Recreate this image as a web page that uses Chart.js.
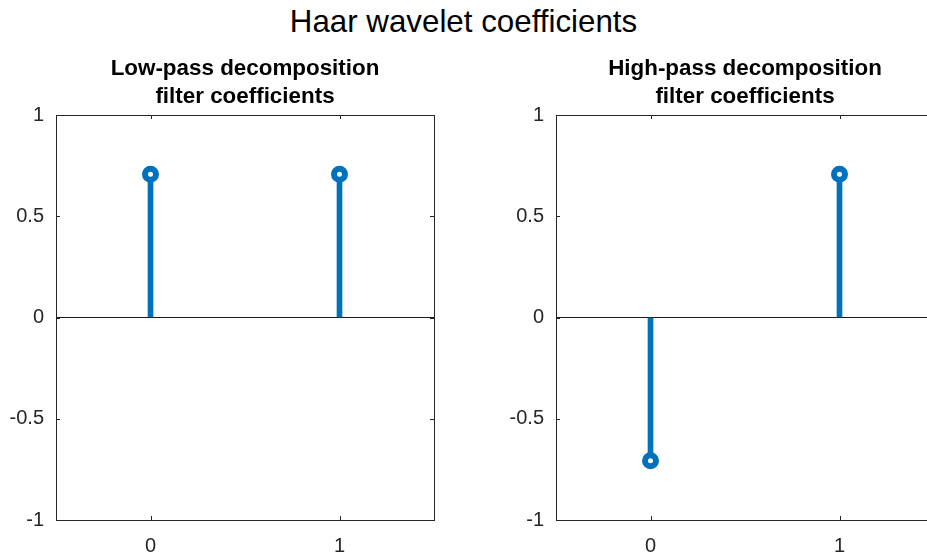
<!DOCTYPE html>
<html>
<head>
<meta charset="utf-8">
<script src="https://cdn.jsdelivr.net/npm/chart.js@4.4.1/dist/chart.umd.min.js"></script>
<style>
  html, body { margin: 0; padding: 0; background: #fff; width: 927px; height: 557px; overflow: hidden; position: relative; }
  #main { position: absolute; left: 0; top: 4px; width: 927px; text-align: center; font-family: "Liberation Sans", Arial, sans-serif; font-size: 31.3px; line-height: 36px; color: #000; }
  canvas { position: absolute; top: 0; }
</style>
</head>
<body>
<div id="main">Haar wavelet coefficients</div>
<canvas id="c1" width="490" height="557" style="left:0px"></canvas>
<canvas id="c2" width="490" height="557" style="left:500px"></canvas>
<script>
const indices = [0, 1];
const lowPass = [0.7071, 0.7071];
const highPass = [-0.7071, 0.7071];
const yTicks = [-1, -0.5, 0, 0.5, 1];
const titleLow = ["Low-pass decomposition", "filter coefficients"];
const titleHigh = ["High-pass decomposition", "filter coefficients"];

const stemColor = '#0072BD';
const axisColor = '#262626';
const fontFam = '"Liberation Sans", Arial, sans-serif';

const boxPlugin = {
  id: 'boxPlugin',
  afterDraw(chart) {
    const {ctx, chartArea: a, scales} = chart;
    ctx.save();
    ctx.strokeStyle = axisColor;
    ctx.lineWidth = 1;
    ctx.strokeRect(Math.round(a.left) + 0.5, Math.round(a.top) + 0.5, Math.round(a.right - a.left), Math.round(a.bottom - a.top));
    const L = 4;
    ctx.beginPath();
    scales.x.ticks.forEach(t => {
      const px = Math.round(scales.x.getPixelForValue(t.value)) + 0.5;
      ctx.moveTo(px, a.bottom); ctx.lineTo(px, a.bottom - L);
      ctx.moveTo(px, a.top); ctx.lineTo(px, a.top + L);
    });
    scales.y.ticks.forEach(t => {
      const py = Math.round(scales.y.getPixelForValue(t.value)) + 0.5;
      ctx.moveTo(a.left, py); ctx.lineTo(a.left + L, py);
      ctx.moveTo(a.right, py); ctx.lineTo(a.right - L, py);
    });
    ctx.stroke();
    ctx.restore();
  }
};

function makeChart(id, values, title) {
  const pts = indices.map((x, i) => ({x: x, y: values[i]}));
  return new Chart(document.getElementById(id), {
    type: 'scatter',
    data: {
      datasets: [
        {
          type: 'bar',
          data: pts,
          backgroundColor: stemColor,
          borderWidth: 0,
          barThickness: 5,
          grouped: false,
          order: 2
        },
        {
          type: 'scatter',
          data: pts,
          pointStyle: 'circle',
          pointRadius: 5.5,
          pointBorderWidth: 6,
          pointBorderColor: stemColor,
          pointBackgroundColor: '#ffffff',
          order: 1
        }
      ]
    },
    options: {
      responsive: false,
      animation: false,
      devicePixelRatio: 1,
      layout: { padding: 0 },
      plugins: {
        legend: { display: false },
        tooltip: { enabled: false },
        title: {
          display: true,
          text: title,
          color: '#000',
          font: { family: fontFam, size: 22.4, weight: 'bold', lineHeight: 28 / 22.4 },
          padding: { top: 55, bottom: 4 }
        }
      },
      scales: {
        x: {
          type: 'linear',
          min: -0.5,
          max: 1.5,
          offset: false,
          afterBuildTicks(scale) { scale.ticks = indices.map(v => ({value: v})); },
          afterFit(scale) { scale.height = 37; },
          grid: { display: false, offset: false, drawTicks: false },
          border: { display: true, color: axisColor, width: 1 },
          ticks: { color: axisColor, font: { family: fontFam, size: 20 }, padding: 14, maxRotation: 0 }
        },
        y: {
          type: 'linear',
          position: 'left',
          min: -1,
          max: 1,
          afterBuildTicks(scale) { scale.ticks = yTicks.map(v => ({value: v})); },
          afterFit(scale) { scale.width = 56; },
          grid: {
            drawTicks: false,
            color: c => (c.tick && c.tick.value === 0) ? '#1a1a1a' : 'rgba(0,0,0,0)',
            lineWidth: 1
          },
          border: { display: true, color: axisColor, width: 1 },
          ticks: {
            color: axisColor,
            font: { family: fontFam, size: 20 },
            padding: 12,
            callback: v => String(v)
          }
        },
        y2: {
          type: 'linear',
          position: 'right',
          min: -1,
          max: 1,
          afterFit(scale) { scale.width = 56; },
          grid: { display: false, drawTicks: false },
          border: { display: false },
          ticks: { display: false }
        }
      }
    },
    plugins: [boxPlugin]
  });
}

makeChart('c1', lowPass, titleLow);
makeChart('c2', highPass, titleHigh);
</script>
</body>
</html>
